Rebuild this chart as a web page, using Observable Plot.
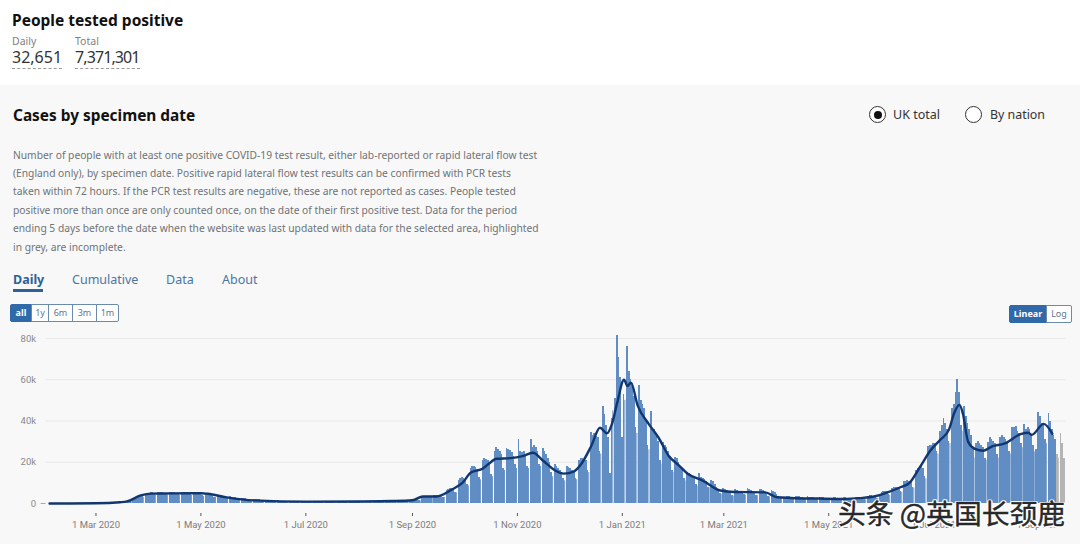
<!DOCTYPE html>
<html>
<head>
<meta charset="utf-8">
<script src="https://cdn.jsdelivr.net/npm/d3@7"></script>
<script src="https://cdn.jsdelivr.net/npm/@observablehq/plot@0.6"></script>
<style>
html,body{margin:0;padding:0;width:1080px;height:544px;overflow:hidden;background:#f8f8f8;font-family:"Noto Sans",sans-serif;color:#0b0c0c}
.a{position:absolute;white-space:nowrap;line-height:1}
#head{position:absolute;left:0;top:0;width:1080px;height:85px;background:#fff}
#chart{position:absolute;left:0;top:325px}
.num{font-size:16px;color:#333;padding-bottom:3px;border-bottom:1px dashed #999;font-family:"Noto Sans"}
.lab{font-size:10.5px;color:#7e8285}
.para{font-size:10.25px;color:#6f7377}
.tab{font-size:12.5px;color:#4a76a3}
.radio{position:absolute;width:15px;height:15px;border:1.3px solid #333;border-radius:50%;background:#fff}
.btn{position:absolute;box-sizing:border-box;height:18px;font-size:9px;line-height:16px;text-align:center;background:#fff;color:#5f7590;border:1px solid #6a8bac;font-family:"Noto Sans"}
.on{background:#2f69a9;color:#fff;font-weight:700;border-color:#2f69a9}
#mark{position:absolute;left:838px;top:495.5px;font-family:"Noto Sans CJK SC";font-size:27.8px;line-height:32px;color:#2a2a2a;white-space:pre;-webkit-text-stroke:0.4px #222;text-shadow:-1.5px 0 #fff,1.5px 0 #fff,0 -1.5px #fff,0 1.5px #fff,1px 1px #fff,-1px -1px #fff,1px -1px #fff,-1px 1px #fff}
</style>
</head>
<body>
<div id="head"></div>
<div class="a" style="left:12px;top:13px;font-size:15.5px;font-weight:700;color:#111">People tested positive</div>
<div class="a lab" style="left:12px;top:36px">Daily</div>
<div class="a lab" style="left:75px;top:36px">Total</div>
<div class="a num" id="dailyNum" style="left:12px;top:49px"></div>
<div class="a num" id="totalNum" style="left:75px;top:49px;letter-spacing:-0.9px"></div>
<div class="a" style="left:13px;top:107.5px;font-size:15.4px;font-weight:700;color:#111">Cases by specimen date</div>

<div class="radio" style="left:869px;top:106px"></div>
<div style="position:absolute;left:873.5px;top:110.5px;width:8.5px;height:8.5px;border-radius:50%;background:#111"></div>
<div class="a" style="left:893px;top:109px;font-size:12.5px;color:#333">UK total</div>
<div class="radio" style="left:965px;top:106px"></div>
<div class="a" style="left:990px;top:109px;font-size:12.4px;color:#333">By nation</div>

<div id="paraBox"></div>

<div class="a tab" style="left:13px;top:273.5px;font-weight:700;color:#2d6198">Daily</div>
<div style="position:absolute;left:13px;top:289px;width:30px;height:2.5px;background:#2d6198"></div>
<div class="a tab" style="left:72px;top:273.5px">Cumulative</div>
<div class="a tab" style="left:166px;top:273.5px">Data</div>
<div class="a tab" style="left:222px;top:273.5px">About</div>

<div class="btn on" style="left:10px;top:304px;width:22px;border-radius:2px 0 0 2px">all</div>
<div class="btn" style="left:31px;top:304px;width:18px">1y</div>
<div class="btn" style="left:48px;top:304px;width:25px">6m</div>
<div class="btn" style="left:72px;top:304px;width:25px">3m</div>
<div class="btn" style="left:96px;top:304px;width:23px;border-radius:0 2px 2px 0">1m</div>
<div class="btn on" style="left:1009px;top:305px;width:38px;border-radius:2px 0 0 2px">Linear</div>
<div class="btn" style="left:1046px;top:305px;width:26px;border-radius:0 2px 2px 0">Log</div>

<div id="chart"></div>
<div id="mark">头条 @英国长颈鹿</div>

<script>
const dailyHeadline = "32,651";
const totalHeadline = "7,371,301";
const paragraphLines = [
  "Number of people with at least one positive COVID-19 test result, either lab-reported or rapid lateral flow test",
  "(England only), by specimen date. Positive rapid lateral flow test results can be confirmed with PCR tests",
  "taken within 72 hours. If the PCR test results are negative, these are not reported as cases. People tested",
  "positive more than once are only counted once, on the date of their first positive test. Data for the period",
  "ending 5 days before the date when the website was last updated with data for the selected area, highlighted",
  "in grey, are incomplete."
];

const firstWeekStart = "2020-02-03";
const incompleteDays = 5;
// daily cases in thousands, one row per week (Mon..Sun)
const weeklyRows = [
[0,0,0,0,0,0,0],[0,0,0,0,0,0,0],[0,0,0,0,0,0,0],
[.01,.01,.02,.02,.03,.02,.03],
[.05,.06,.08,.1,.1,.06,.08],
[.2,.25,.3,.3,.35,.3,.35],
[.7,.8,.9,1,1.1,1.1,1.4],
[2.1,2.5,2.9,3.2,3.5,3.2,3],
[4.3,4.6,4.9,5.2,5.2,4.3,4],
[5.2,5.4,5.4,5.3,4.7,4.4,4.2],
[5.3,5.4,5.5,5.4,5,4.3,4],
[5.2,5.2,5.1,5.2,5,4.3,3.9],
[5.3,5.3,5.3,5.2,4.7,3.8,3.4],
[4.7,4.6,4.4,4.2,3.3,3.1,2.9],
[4,3.9,3.7,3.5,3.1,2.6,2.4],
[3.3,3.1,3,2.8,2.5,2,1.9],
[2.2,2.3,2.2,2.1,1.9,1.5,1.4],
[2,1.9,1.8,1.7,1.5,1.2,1.1],
[1.6,1.5,1.4,1.4,1.2,1,.9],
[1.3,1.2,1.2,1.1,1,.8,.7],
[1.1,1.1,1,1,.9,.7,.6],
[1,1,.9,.9,.8,.6,.6],
[.9,.9,.9,.8,.7,.6,.5],
[.9,.9,.8,.8,.7,.6,.5],
[.9,.8,.8,.8,.7,.6,.5],
[1,.9,.9,.9,.8,.7,.6],
[1.1,1,1,1,.9,.7,.7],
[1.2,1.2,1.1,1.1,1,.8,.7],
[1.2,1.2,1.2,1.1,1,.8,.8],
[1.4,1.4,1.3,1.3,1.2,1,.9],
[1.5,1.7,1.8,1.8,1.7,1.4,1.3],
[3.2,3.5,3.6,3.5,3.4,2.7,2.6],
[4,4.1,4,3.9,3.6,3,2.9],
[6.5,7,7.3,7.4,7.2,5.5,5.2],
[11,12,12.5,12.3,11.5,9,8.5],
[17,18,18,17.5,16.5,12.5,11.5],
[21,22,21.5,21,19.5,14,13],
[25,27,26,25,24,17,16],
[26.6,26,25.5,24.5,23,19,17],
[31,25,24.5,25,24,18,17],
[31,27,28,27,25,19,18],
[26.5,25,24,22,20,15,13],
[18.8,18,17,16,15,12,11],
[18,17.5,17,16,15,12,11.5],
[21,22,22,21.5,21,16,15],
[34.4,33,34,32.7,32,25,24],
[46.8,43,38,32,14.5,41,45],
[51,81.5,70.7,61,32,53,50],
[76,64,60,58,52,37,34],
[57,50,48,46,40,28,26],
[44.6,35,36,34,30,21,19],
[29.6,28,27,25,23,16,15],
[22.4,22,20,18,16.5,12,11],
[15,14.5,14,13,12,9,8.5],
[14.5,12.5,12,11.5,10.5,8,7.5],
[11,10.5,9,8,7,5,4.5],
[7.5,6.8,6.5,6,5.5,4,3.6],
[7,6.5,6,5.8,5.5,4.3,4],
[7.3,6.8,6.5,6,5.5,4,3.8],
[6.8,6.6,6.4,6,5,3.6,3.2],
[6.5,5.8,5.4,4.5,3.2,2.7,2.6],
[2.4,3,3.6,3.5,3,2.5,2.2],
[3.6,3.4,3.2,3,2.8,2,1.9],
[3.2,3,2.9,2.8,2.5,1.9,1.7],
[3,2.8,2.7,2.6,2.4,1.8,1.6],
[1.8,2.7,2.7,2.6,2.4,1.7,1.6],
[2.8,2.7,2.6,2.5,2.3,1.8,1.6],
[3,2.9,2.8,2.7,2.5,1.9,1.8],
[3.6,3.7,3.7,3.6,3.4,2.6,2.4],
[3.6,5.5,6,5.8,5.6,4.2,3.9],
[7.5,7.8,7.9,7.8,7.5,5.8,5.5],
[10.5,10.8,11,10.8,10.5,8,7.5],
[16,17,17,18,17,13,12],
[27.5,28,28,29,29,25,24],
[35,37.7,41,39,36,30,29],
[46,48,53.7,60,53.7,38,35],
[47,42,39,36,33,27,22],
[29,30,29,28,27,22,21],
[29.5,32,31,30,29,24,22],
[32,33,32,31,29,25,24],
[37,37,37.5,35,34,29,27],
[38.5,36,37,36,33,28,25],
[26,44,42,39,38,31,29],
[43.7,40,36,33,31,24,22],
[33.8,29,22]
];

// seven-day average line, thousands
const avgDates = ["2020-02-03","2020-03-01","2020-03-15","2020-03-19","2020-03-27","2020-04-02","2020-04-15","2020-05-01","2020-05-05","2020-05-16","2020-06-01","2020-07-01","2020-08-01","2020-08-20","2020-09-01","2020-09-07","2020-09-15","2020-09-24","2020-09-30","2020-10-05","2020-10-12","2020-10-15","2020-10-20","2020-10-28","2020-11-04","2020-11-10","2020-11-16","2020-11-23","2020-11-28","2020-12-04","2020-12-08","2020-12-14","2020-12-19","2020-12-23","2020-12-26","2020-12-29","2021-01-02","2021-01-04","2021-01-06","2021-01-10","2021-01-16","2021-01-22","2021-01-28","2021-02-03","2021-02-08","2021-02-17","2021-02-27","2021-03-07","2021-03-25","2021-04-01","2021-04-09","2021-04-25","2021-05-10","2021-05-19","2021-05-28","2021-06-03","2021-06-12","2021-06-17","2021-06-23","2021-06-29","2021-07-05","2021-07-10","2021-07-13","2021-07-16","2021-07-18","2021-07-21","2021-07-25","2021-07-30","2021-08-04","2021-08-11","2021-08-21","2021-08-25","2021-08-27","2021-09-03","2021-09-08"];
const avgThousands = [0,.1,.6,1,3.9,4.8,4.9,5,4.7,3,1.5,.9,1,1.2,1.6,3.4,3.4,6.8,10,15,17,19,21.7,22,23,24.6,20.7,16,14.5,15.6,19,28,36.7,34,38.6,48.8,60,57,58.6,47.3,39,32,23,18.4,14.4,11,6.3,5.6,5.4,3,2.7,2.4,2.2,2.6,3.5,5,8,10,17.6,25.6,31,36,44,47.8,43.5,30,26.5,25.6,27.7,29,33.8,34.3,33.3,38.6,33.8];

const xTickDates = ["2020-03-01","2020-05-01","2020-07-01","2020-09-01","2020-11-01","2021-01-01","2021-03-01","2021-05-01","2021-07-01","2021-09-01"];
const yTicks = [0,20,40,60,80];
const xDomain = ["2020-02-01","2021-09-16"];

document.getElementById("dailyNum").textContent = dailyHeadline;
document.getElementById("totalNum").textContent = totalHeadline;
const box = document.getElementById("paraBox");
paragraphLines.forEach((t,i)=>{
  const d=document.createElement("div");
  d.className="a para";
  d.style.left="13px";
  d.style.top=(149.5+i*18.4)+"px";
  d.textContent=t;
  box.appendChild(d);
});

const DAY = 864e5;
const t0 = +new Date(firstWeekStart);
const daily = weeklyRows.flat();
const bars = daily.map((v,i)=>({
  x1:new Date(t0+(i-0.5)*DAY),
  x2:new Date(t0+(i+0.5)*DAY),
  v,
  sunday:i%7===6,
  grey:i>=daily.length-incompleteDays
}));
const avg = avgDates.map((d,i)=>({date:new Date(d),v:avgThousands[i]}));
const fmt = d3.utcFormat("%-d %b %Y");
const barFill = d=>d.grey?"#b4b4b4":"#5f8dc4";

const plot = Plot.plot({
  width:1080,
  height:219,
  marginLeft:45.6,
  marginRight:14.4,
  marginTop:13,
  marginBottom:31,
  insetBottom:10,
  style:{background:"transparent",fontFamily:"Roboto",fontSize:"9.5px",overflow:"visible"},
  x:{type:"utc",domain:xDomain.map(d=>new Date(d))},
  y:{domain:[0,80]},
  marks:[
    Plot.ruleY(yTicks.slice(1),{stroke:"#e9e9e9",strokeWidth:1}),
    Plot.rectY(bars.filter(d=>!d.sunday),{x1:"x1",x2:"x2",y:"v",fill:barFill,shapeRendering:"crispEdges"}),
    Plot.rectY(bars.filter(d=>d.sunday),{x1:"x1",x2:"x2",y:"v",insetRight:0.8,fill:barFill}),
    Plot.lineY(avg,{x:"date",y:"v",stroke:"#12366f",strokeWidth:2.4,curve:"monotone-x"}),
    Plot.axisX({ticks:xTickDates.map(d=>new Date(d)),tickFormat:fmt,tickSize:3,tickPadding:5,label:null,stroke:"#555",fill:"#7b7b7b"}),
    Plot.axisY({ticks:yTicks,tickFormat:d=>d?d+"k":"0",tickSize:0,tickPadding:10,label:null,fill:"#8a8a8a"}),
    Plot.axisY({ticks:[0],tickFormat:()=>"",tickSize:5,tickPadding:0,label:null,stroke:"#aaa"})
  ]
});
document.getElementById("chart").appendChild(plot);
</script>
</body>
</html>
